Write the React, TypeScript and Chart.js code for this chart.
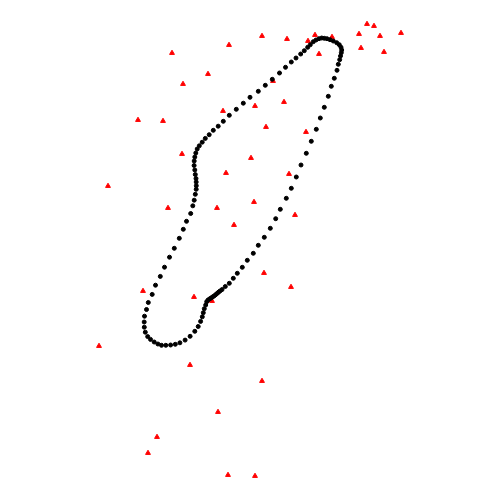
import React, { useEffect, useRef } from "react";
import { Chart, registerables } from "chart.js";

Chart.register(...registerables);

// Red triangle markers
const triX: number[] = [229, 172, 208, 183, 223, 138, 163, 182, 226, 251, 262, 287, 315, 332, 308, 367, 374, 359, 380, 401, 361, 384, 319, 273, 255, 284, 266, 306, 289, 108, 168, 217, 234, 143, 194, 212, 254, 295, 264, 291, 99, 190, 262, 218, 157, 148, 228, 255];
const triY: number[] = [45, 53, 74, 84, 111, 120, 121, 154, 173, 158, 36, 39, 35, 37, 41, 24, 26, 34, 36, 33, 48, 52, 54, 81, 106, 102, 127, 132, 174, 186, 208, 208, 225, 291, 297, 301, 202, 215, 273, 287, 346, 365, 381, 412, 437, 453, 475, 476];

// Black closed loop
const loopX: number[] = [205.7, 206.7, 208, 209.5, 211, 212.5, 214, 215.5, 217, 218.5, 220, 222, 225.3, 229.3, 233.3, 237.3, 242.3, 247.3, 253.3, 258.3, 264.3, 270.3, 275.7, 280.3, 286.3, 291.3, 296.3, 301, 306.3, 311.3, 316.3, 320.3, 324.3, 328.3, 331.3, 334.3, 337, 338.3, 339.7, 340.5, 341.3, 341.7, 341, 339.3, 336.7, 333.3, 330, 327, 324.3, 321.7, 319, 316, 313.3, 310.3, 307.7, 304.3, 300.7, 296, 291.3, 285.5, 279.5, 272.3, 265.3, 258.3, 250, 243.3, 236.3, 229.3, 223.3, 218.2, 213.3, 209.2, 205.3, 202.2, 199.3, 197.2, 195.8, 194.8, 194.2, 194.1, 194.8, 195.3, 196, 196.2, 196.3, 196.2, 195.3, 194.2, 192.8, 190.7, 186.5, 183.3, 179.3, 174.3, 169.5, 164.5, 160.3, 155.5, 152.2, 148.3, 146.5, 144.5, 144.2, 144.3, 145.3, 147.7, 150.5, 154.2, 157.9, 161.5, 165.8, 170.6, 175.3, 179.9, 185.1, 190.1, 194.8, 198.2, 200.6, 202.3, 203.3, 204.3];
const loopY: number[] = [305, 301.7, 300, 299, 298, 297, 296, 294.8, 293.5, 292.2, 291, 289.6, 286.5, 283.3, 278.3, 273.3, 267.3, 260.3, 253.3, 245.3, 237.3, 228.3, 218.7, 209.3, 198.3, 188.3, 177, 165, 153.3, 141.3, 129.3, 118, 107.3, 96.3, 86.3, 78.3, 70.3, 64.3, 59.7, 56, 52.7, 50, 47.3, 44.7, 42.7, 41, 39.7, 38.7, 38.3, 38, 38.7, 40, 41.7, 44.7, 47.3, 50.7, 54, 58, 62, 67.3, 73, 79.3, 85.3, 91.3, 97.3, 103.2, 109.3, 115.3, 121.3, 126.2, 130.3, 134.7, 138.4, 142.2, 145.8, 149, 153, 157, 161, 165.5, 170, 174.5, 178.5, 182, 185.7, 189.3, 194.3, 200.2, 205.8, 213.5, 221.3, 229.3, 238.3, 248.3, 257.2, 267.2, 276.4, 285.2, 294.4, 302.5, 309.5, 316.2, 322, 327.2, 332.2, 336.6, 339.4, 342, 344, 345.3, 345.3, 345, 344.3, 342.8, 340.1, 336.3, 331.3, 326.5, 321.4, 316.8, 312.7, 308.7];

export default function App() {
  const ref = useRef<HTMLCanvasElement | null>(null);
  useEffect(() => {
    if (!ref.current) return;
    const loopData = loopX.map((x, i) => ({ x, y: loopY[i] }));
    const triData = triX.map((x, i) => ({ x, y: triY[i] }));
    const chart = new Chart(ref.current, {
      type: "scatter",
      data: {
        datasets: [
          {
            label: "loop",
            data: loopData,
            pointStyle: "circle",
            pointRadius: 2,
            pointBorderWidth: 1,
            backgroundColor: "#000000",
            borderColor: "#000000",
            showLine: false,
          },
          {
            label: "points",
            data: triData,
            pointStyle: "triangle",
            pointRadius: 2.8,
            pointBorderWidth: 1,
            backgroundColor: "#ff0000",
            borderColor: "#ff0000",
            showLine: false,
          },
        ],
      },
      options: {
        animation: false,
        responsive: false,
        layout: { padding: 0, autoPadding: false },
        plugins: { legend: { display: false }, tooltip: { enabled: false } },
        scales: {
          x: { type: "linear", min: 0, max: 500, display: false },
          y: { type: "linear", min: 0, max: 500, reverse: true, display: false },
        },
      },
    });
    return () => chart.destroy();
  }, []);
  return (
    <div style={{ position: "absolute", left: 0, top: 0, width: 500, height: 500, background: "#fff" }}>
      <canvas ref={ref} width={500} height={500} />
    </div>
  );
}
